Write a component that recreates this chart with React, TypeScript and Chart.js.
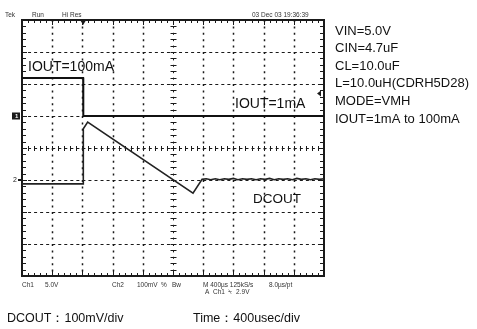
import React, { useEffect, useRef } from "react";
import { Chart, registerables } from "chart.js";
Chart.register(...registerables);

// Time axis: 400 µs/div, 10 divisions
const timeDivUs = 400;
const timeMaxUs = 4000;

// Ch1 (IOUT sense, 5 V/div), ground marker at +1 div
const ch1TimeUs = [0, 810, 812, 4000];
const ch1Volts = [5.95, 5.95, 0, 0];
const ch1VoltsPerDiv = 5;
const ch1GroundDiv = 1;
const ch1TriggerVolts = 2.9;

// Ch2 (DCOUT, 100 mV/div), ground marker at -1 div
const ch2TimeUs = [0, 808, 812, 870, 2265, 2385, 2440, 2500, 2560, 2620, 2680, 2740, 2800, 2860, 2920, 2980, 3040, 3100, 3160, 3220, 3280, 3340, 3400, 3460, 3520, 3580, 3640, 3700, 3760, 3820, 3880, 3940, 4000];
const ch2Mv = [-12, -12, 160, 181, -41, 2, 4, 1, 4, 1, 4, 2, 5, 1, 4, 2, 4, 1, 4, 2, 5, 1, 4, 2, 4, 1, 5, 2, 4, 1, 4, 2, 4];
const ch2MvPerDiv = 100;
const ch2GroundDiv = -1;

const sideNotes = ["VIN=5.0V", "CIN=4.7uF", "CL=10.0uF", "L=10.0uH(CDRH5D28)", "MODE=VMH", "IOUT=1mA to 100mA"];
const bottomNotes = ["DCOUT：100mV/div", "Time：400usec/div"];

const FONT = "'Liberation Sans', Arial, sans-serif";

const scopePlugin = {
  id: "scope",
  beforeDatasetsDraw(chart: any) {
    const { ctx, chartArea: a, scales } = chart;
    const xs = scales.x, ys = scales.y;
    const col = "#1a1a1a";
    ctx.save();
    ctx.strokeStyle = col;
    ctx.fillStyle = col;
    // grid lines
    for (let i = 1; i < 10; i++) {
      if (i === 5) continue;
      const x = Math.round(xs.getPixelForValue(i * timeDivUs)) + 0.5;
      ctx.lineWidth = 1.5;
      ctx.setLineDash([2, 4.4]);
      ctx.beginPath(); ctx.moveTo(x, a.top); ctx.lineTo(x, a.bottom); ctx.stroke();
    }
    for (let j = -3; j <= 3; j++) {
      if (j === 0) continue;
      const y = Math.round(ys.getPixelForValue(j)) + 0.5;
      ctx.lineWidth = 1.2;
      ctx.setLineDash([3, 3.04]);
      ctx.beginPath(); ctx.moveTo(a.left, y); ctx.lineTo(a.right, y); ctx.stroke();
    }
    ctx.setLineDash([]);
    // center lines with ticks
    const cx = Math.round(xs.getPixelForValue(timeMaxUs / 2)) + 0.5;
    const cy = Math.round(ys.getPixelForValue(0)) + 0.5;
    ctx.lineWidth = 1;
    ctx.setLineDash([3, 3.04]);
    ctx.beginPath(); ctx.moveTo(a.left, cy); ctx.lineTo(a.right, cy); ctx.stroke();
    ctx.setLineDash([2, 4.4]);
    ctx.beginPath(); ctx.moveTo(cx, a.top); ctx.lineTo(cx, a.bottom); ctx.stroke();
    ctx.setLineDash([]);
    ctx.lineWidth = 1;
    for (let k = 0; k <= 50; k++) {
      const x = Math.round(xs.getPixelForValue(k * timeDivUs / 5)) + 0.5;
      ctx.beginPath(); ctx.moveTo(x, cy - 2.5); ctx.lineTo(x, cy + 2.5); ctx.stroke();
      const len = k % 5 === 0 ? 5 : 3;
      ctx.beginPath(); ctx.moveTo(x, a.top); ctx.lineTo(x, a.top + len); ctx.stroke();
      ctx.beginPath(); ctx.moveTo(x, a.bottom); ctx.lineTo(x, a.bottom - len); ctx.stroke();
    }
    for (let k = -20; k <= 20; k++) {
      const y = Math.round(ys.getPixelForValue(k / 5)) + 0.5;
      ctx.beginPath(); ctx.moveTo(cx - 3, y); ctx.lineTo(cx + 3, y); ctx.stroke();
      const len = k % 5 === 0 ? 5 : 4;
      ctx.beginPath(); ctx.moveTo(a.left, y); ctx.lineTo(a.left + len, y); ctx.stroke();
      ctx.beginPath(); ctx.moveTo(a.right, y); ctx.lineTo(a.right - len, y); ctx.stroke();
    }
    // border
    ctx.lineWidth = 2;
    ctx.strokeRect(a.left, a.top, a.right - a.left, a.bottom - a.top);

    // trigger position marker
    const tx = xs.getPixelForValue(810);
    ctx.beginPath(); ctx.moveTo(tx - 3, a.top); ctx.lineTo(tx + 3, a.top); ctx.lineTo(tx, a.top + 5); ctx.closePath(); ctx.fill();
    // trigger level marker (right)
    const ty = ys.getPixelForValue(ch1TriggerVolts / ch1VoltsPerDiv + ch1GroundDiv) - 4;
    ctx.beginPath(); ctx.moveTo(a.right - 7, ty); ctx.lineTo(a.right - 3, ty - 3); ctx.lineTo(a.right - 3, ty + 3); ctx.closePath(); ctx.fill();
    // ch1 ground marker
    const g1 = ys.getPixelForValue(ch1GroundDiv);
    ctx.fillRect(a.left - 10, g1 - 3.5, 8, 7);
    ctx.fillStyle = "#fff";
    ctx.font = `bold 6px ${FONT}`;
    ctx.textBaseline = "middle";
    ctx.fillText("1", a.left - 7, g1 + 0.5);
    ctx.fillStyle = col;
    // ch2 ground marker
    const g2 = ys.getPixelForValue(ch2GroundDiv);
    ctx.font = `7px ${FONT}`;
    ctx.fillText("2", a.left - 9, g2);
    ctx.beginPath(); ctx.moveTo(a.left - 4, g2); ctx.lineTo(a.left, g2); ctx.stroke();

    // scope header / footer texts
    ctx.fillStyle = "#333";
    ctx.font = `6.5px ${FONT}`;
    ctx.textBaseline = "alphabetic";
    ctx.fillText("Tek", 5, 17);
    ctx.fillText("Run", 32, 17);
    ctx.fillText("Hi Res", 62, 17);
    ctx.fillText("03 Dec 03 19:36:39", 252, 17);
    ctx.fillText("Ch1", 22, 287);
    ctx.fillText("5.0V", 45, 287);
    ctx.fillText("Ch2", 112, 287);
    ctx.fillText("100mV", 137, 287);
    ctx.fillText("%", 161, 287);
    ctx.fillText("Bw", 172, 287);
    ctx.fillText("M 400µs 125kS/s", 203, 287);
    ctx.fillText("8.0µs/pt", 269, 287);
    ctx.fillText("A  Ch1  ⍀  2.9V", 205, 294);
    ctx.restore();
  },
  afterDatasetsDraw(chart: any) {
    const { ctx } = chart;
    ctx.save();
    ctx.fillStyle = "#111";
    ctx.textBaseline = "middle";
    ctx.font = `14px ${FONT}`;
    ctx.fillText("IOUT=100mA", 28, 67);
    ctx.fillText("IOUT=1mA", 235, 104);
    ctx.font = `13.5px ${FONT}`;
    ctx.fillText("DCOUT", 253, 199);
    ctx.font = `13px ${FONT}`;
    sideNotes.forEach((t, i) => ctx.fillText(t, 335, 31 + i * 17.6));
    ctx.font = `12.5px ${FONT}`;
    ctx.fillText(bottomNotes[0], 7, 319);
    ctx.fillText(bottomNotes[1], 193, 319);
    ctx.restore();
  },
};

export default function App() {
  const ref = useRef<HTMLCanvasElement>(null);
  useEffect(() => {
    if (!ref.current) return;
    const chart = new Chart(ref.current, {
      type: "line",
      data: {
        datasets: [
          {
            label: "Ch1",
            data: ch1TimeUs.map((t, i) => ({ x: t, y: ch1Volts[i] / ch1VoltsPerDiv + ch1GroundDiv })),
            borderColor: "#111",
            borderWidth: 2,
            pointRadius: 0,
            tension: 0,
          },
          {
            label: "Ch2",
            data: ch2TimeUs.map((t, i) => ({ x: t, y: ch2Mv[i] / ch2MvPerDiv + ch2GroundDiv })),
            borderColor: "#222",
            borderWidth: 1.6,
            pointRadius: 0,
            tension: 0,
          },
        ],
      },
      options: {
        animation: false,
        responsive: false,
        maintainAspectRatio: false,
        layout: { padding: { left: 22, top: 20, right: 153, bottom: 53 } },
        plugins: { legend: { display: false }, tooltip: { enabled: false } },
        scales: {
          x: { type: "linear", min: 0, max: timeMaxUs, display: false },
          y: { type: "linear", min: -4, max: 4, display: false },
        },
      },
      plugins: [scopePlugin],
    });
    return () => chart.destroy();
  }, []);
  return (
    <div style={{ position: "absolute", left: 0, top: 0, width: 477, height: 329, background: "#fff" }}>
      <canvas ref={ref} width={477} height={329} style={{ width: 477, height: 329 }} />
    </div>
  );
}
